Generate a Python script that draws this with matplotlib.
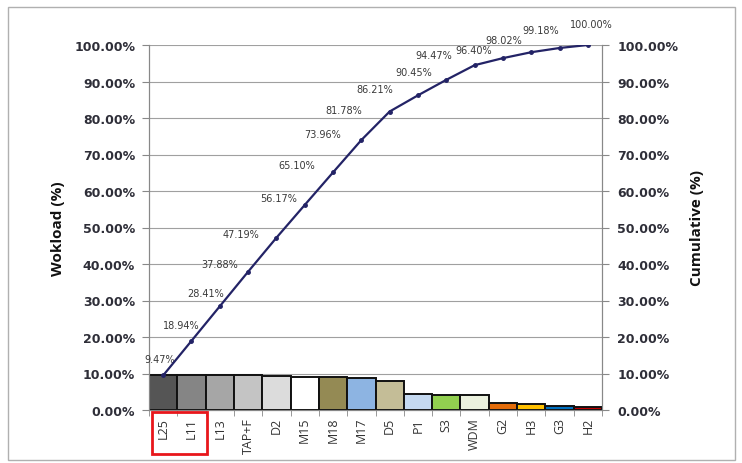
import matplotlib
matplotlib.use("Agg")
import matplotlib.pyplot as plt
from matplotlib.patches import Rectangle
from matplotlib.ticker import FuncFormatter, FixedLocator
import numpy as np

categories = ["L25", "L11", "L13", "TAP+F", "D2", "M15", "M18", "M17", "D5",
              "P1", "S3", "WDM", "G2", "H3", "G3", "H2"]
workload = [9.47, 9.47, 9.47, 9.47, 9.31, 8.98, 8.93, 8.86, 7.82,
            4.43, 4.24, 4.02, 1.93, 1.62, 1.16, 0.82]
cumulative = [9.47, 18.94, 28.41, 37.88, 47.19, 56.17, 65.10, 73.96, 81.78,
              86.21, 90.45, 94.47, 96.40, 98.02, 99.18, 100.00]
bar_colors = ["#555555", "#858585", "#a6a6a6", "#c4c4c4", "#dcdcdc", "#ffffff",
              "#948a54", "#8db4e2", "#c4bd97", "#c5d9f1", "#92d050", "#ebf1de",
              "#e46c0a", "#ffc000", "#0070c0", "#c00000"]
# data-label placement (pixel offsets from each point, style only)
label_dx = [-3, -10, -14, -28, -35, -26, -36, -39, -46, -43, -33, -41, -29, -27, -19, 3]
label_dy = [16, 16, 13, 8, 4, 7, 7, 6, 2, 6, 8, 10, 8, 12, 18, 21]

W, H = 742, 464
fig = plt.figure(figsize=(W / 100, H / 100), dpi=100)
fig.patch.set_facecolor("white")

ax_l, ax_r, ax_b, ax_t = 149, 602, 411, 46
ax = fig.add_axes([ax_l / W, 1 - ax_b / H, (ax_r - ax_l) / W, (ax_b - ax_t) / H])
x = np.arange(len(categories))
ax.bar(x, workload, width=1.0, color=bar_colors, edgecolor="#111111", linewidth=1.4, zorder=3)
ax.set_xlim(-0.5, len(categories) - 0.5)
ax.set_ylim(0, 100)
ax.set_yticks(np.arange(0, 101, 10))
pct = FuncFormatter(lambda v, p: f"{v:.2f}%")
ax.yaxis.set_major_formatter(pct)
ax.grid(axis="y", color="#a0a0a0", linewidth=0.8, zorder=0)
ax.set_axisbelow(True)

ax2 = ax.twinx()
ax2.set_ylim(0, 100)
ax2.set_yticks(np.arange(0, 101, 10))
ax2.yaxis.set_major_formatter(pct)
ax2.plot(x, cumulative, color="#232366", linewidth=1.6, marker="o", markersize=2.5, zorder=5)
for xi, c, dx, dy in zip(x, cumulative, label_dx, label_dy):
    ax2.annotate(f"{c:.2f}%", (xi, c), xytext=(dx, dy), textcoords="offset pixels",
                 ha="center", va="center", fontsize=7, color="#3a3a3a")

for a in (ax, ax2):
    a.spines["top"].set_visible(False)
    for s in ("left", "right", "bottom"):
        a.spines[s].set_color("#888888")

tick_font = dict(fontsize=9, fontweight="bold", color="#2e2e38", family="DejaVu Sans")
for lab in ax.get_yticklabels():
    lab.set(**tick_font)
for lab in ax2.get_yticklabels():
    lab.set(**tick_font)
ax.tick_params(axis="y", length=5, color="#888888", pad=5)
ax2.tick_params(axis="y", length=5, color="#888888", pad=6)

ax.set_xticks(x)
ax.set_xticklabels(categories, rotation=90, fontsize=9, color="#333333", family="Open Sans")
ax.tick_params(axis="x", length=0, pad=5)
ax.xaxis.set_minor_locator(FixedLocator(np.arange(-0.5, len(categories), 1.0)))
ax.tick_params(axis="x", which="minor", length=4, color="#888888")

ax.set_ylabel("Wokload (%)", fontsize=11, fontweight="bold", family="Open Sans", color="#111111")
ax.yaxis.set_label_coords((65 - ax_l) / (ax_r - ax_l), 0.5)
ax2.set_ylabel("Cumulative (%)", fontsize=11, fontweight="bold", family="Open Sans",
               color="#111111", rotation=90)
ax2.yaxis.set_label_coords((690 - ax_l) / (ax_r - ax_l), 0.5)

# red highlight box around first two category labels
fig.add_artist(Rectangle((152 / W, 1 - 455 / H), (207 - 152) / W, (455 - 413) / H,
                         transform=fig.transFigure, fill=False, edgecolor="#e8161b", linewidth=2))
# outer chart frame
fig.add_artist(Rectangle((8 / W, 1 - 461 / H), (735 - 8) / W, (461 - 8) / H,
                         transform=fig.transFigure, fill=False, edgecolor="#b0b0b0", linewidth=1))

fig.savefig("out.png", dpi=100)
